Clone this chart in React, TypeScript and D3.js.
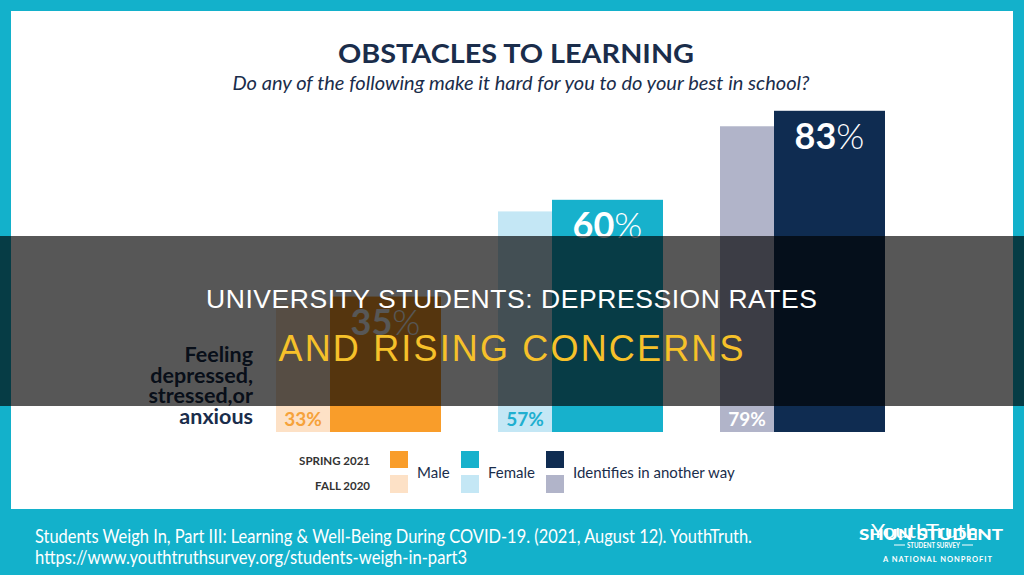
import React, { useEffect } from "react";
import * as d3 from "d3";

// chart data
const groups = ["Male", "Female", "Identifies in another way"];
const spring2021 = [35, 60, 83];
const fall2020 = [33, 57, 79];
const seasons = ["SPRING 2021", "FALL 2020"];
const springColors = ["#f99d2a", "#17b1cc", "#0f2c51"];
const fallColors = ["#fde1c6", "#c4e7f5", "#b1b4c9"];
const fallLabelColors = ["#f6a23a", "#20afd0", "#ffffff"];
const rowLabel = ["Feeling", "depressed,", "stressed,or", "anxious"];

const W = 1024;
const H = 575;
const teal = "#13b1cb";
const navy = "#1a2d4b";
const fallOffset = 54; // fall bar sits behind, shifted left
const legendX = [390, 461, 546]; // legend item positions

const App: React.FC = () => {
  useEffect(() => {
    document.body.style.margin = "0";
  }, []);

  const xScale = d3
    .scaleBand<string>()
    .domain(groups)
    .range([330, 885])
    .paddingInner(0.5)
    .paddingOuter(0);
  const bw = xScale.bandwidth();

  const yScale = d3.scaleLinear().domain([0, 100]).range([432, 45]);

  return (
    <svg width={W} height={H} style={{ display: "block" }}>
      {/* frame */}
      <rect x={0} y={0} width={W} height={H} fill={teal} />
      <rect x={11} y={11} width={1002} height={498} fill="#ffffff" />

      {/* titles */}
      <text
        x={516}
        y={63}
        textAnchor="middle"
        fontFamily="Lato"
        fontWeight={700}
        fontSize={27}
        fill={navy}
        textLength={356}
        lengthAdjust="spacingAndGlyphs"
      >
        OBSTACLES TO LEARNING
      </text>
      <text
        x={521}
        y={90}
        textAnchor="middle"
        fontFamily="Lato"
        fontStyle="italic"
        fontSize={18.5}
        fill={navy}
        textLength={577}
        lengthAdjust="spacingAndGlyphs"
      >
        Do any of the following make it hard for you to do your best in school?
      </text>

      {/* fall 2020 bars (behind) */}
      {groups.map((g, i) => (
        <rect
          key={"f" + g}
          x={(xScale(g) as number) - fallOffset}
          y={yScale(fall2020[i])}
          width={bw}
          height={yScale(0) - yScale(fall2020[i])}
          fill={fallColors[i]}
        />
      ))}
      {/* spring 2021 bars */}
      {groups.map((g, i) => (
        <rect
          key={"s" + g}
          x={xScale(g) as number}
          y={yScale(spring2021[i])}
          width={bw}
          height={yScale(0) - yScale(spring2021[i])}
          fill={springColors[i]}
        />
      ))}

      {/* spring labels */}
      {groups.map((g, i) => (
        <text
          key={"sl" + g}
          x={(xScale(g) as number) + bw / 2}
          y={yScale(spring2021[i]) + 38}
          textAnchor="middle"
          fontFamily="Lato"
          fontSize={36}
          fill="#ffffff"
        >
          <tspan fontWeight={700}>{spring2021[i]}</tspan>
          <tspan fontWeight={300}>%</tspan>
        </text>
      ))}

      {/* fall labels */}
      {groups.map((g, i) => (
        <text
          key={"fl" + g}
          x={(xScale(g) as number) - fallOffset / 2}
          y={426}
          textAnchor="middle"
          fontFamily="Lato"
          fontWeight={700}
          fontSize={19}
          fill={fallLabelColors[i]}
        >
          {fall2020[i]}%
        </text>
      ))}

      {/* row label */}
      {rowLabel.map((t, i) => (
        <text
          key={t}
          x={253}
          y={362 + i * 20.7}
          textAnchor="end"
          fontFamily="Lato"
          fontWeight={700}
          fontSize={21.5}
          fill={navy}
        >
          {t}
        </text>
      ))}

      {/* legend */}
      {seasons.map((s, j) => (
        <text
          key={s}
          x={370}
          y={465 + j * 25}
          textAnchor="end"
          fontFamily="Lato"
          fontWeight={700}
          fontSize={11.5}
          fill="#333333"
        >
          {s}
        </text>
      ))}
      {groups.map((g, i) => (
        <g key={"lg" + g} transform={`translate(${legendX[i]},0)`}>
          <rect x={0} y={451} width={18} height={17} fill={springColors[i]} />
          <rect x={0} y={475} width={18} height={18} fill={fallColors[i]} />
          <text x={27} y={478} fontFamily="Lato" fontSize={15} fill={navy}>
            {g}
          </text>
        </g>
      ))}

      {/* overlay banner */}
      <rect x={0} y={236} width={W} height={170} fill="rgba(0,0,0,0.66)" />
      <text
        x={511.5}
        y={308}
        textAnchor="middle"
        fontFamily="Liberation Sans"
        fontSize={26.5}
        fill="#ffffff"
        textLength={611}
        lengthAdjust="spacing"
      >
        UNIVERSITY STUDENTS: DEPRESSION RATES
      </text>
      <text
        x={511}
        y={361}
        textAnchor="middle"
        fontFamily="Liberation Sans"
        fontSize={36}
        fill="#f6c12a"
        textLength={465}
        lengthAdjust="spacing"
      >
        AND RISING CONCERNS
      </text>

      {/* footer */}
      <text
        x={35}
        y={543}
        fontFamily="Lato"
        fontSize={20}
        fill="#ffffff"
        textLength={717}
        lengthAdjust="spacingAndGlyphs"
      >
        Students Weigh In, Part III: Learning &amp; Well-Being During COVID-19. (2021, August 12). YouthTruth.
      </text>
      <text
        x={35}
        y={564}
        fontFamily="Lato"
        fontSize={20}
        fill="#ffffff"
        textLength={432}
        lengthAdjust="spacingAndGlyphs"
      >
        https://www.youthtruthsurvey.org/students-weigh-in-part3
      </text>

      {/* logo */}
      <text
        x={871}
        y={538}
        fontFamily="Lato"
        fontSize={20}
        fill="#ffffff"
        textLength={107}
        lengthAdjust="spacingAndGlyphs"
      >
        YouthTruth
      </text>
      <text
        x={859}
        y={540}
        fontFamily="Lato"
        fontWeight={900}
        fontSize={15}
        fill="#ffffff"
        textLength={144}
        lengthAdjust="spacingAndGlyphs"
      >
        SHUN STUDENT
      </text>
      <line x1={894} x2={905} y1={545} y2={545} stroke="#ffffff" strokeWidth={1} />
      <line x1={962} x2={973} y1={545} y2={545} stroke="#ffffff" strokeWidth={1} />
      <text
        x={933.5}
        y={547.5}
        textAnchor="middle"
        fontFamily="Lato"
        fontWeight={700}
        fontSize={7}
        fill="#ffffff"
        textLength={53}
        lengthAdjust="spacingAndGlyphs"
      >
        STUDENT SURVEY
      </text>
      <text
        x={937.5}
        y={562}
        textAnchor="middle"
        fontFamily="Lato"
        fontWeight={700}
        fontSize={7.5}
        fill="#ffffff"
        textLength={109}
        lengthAdjust="spacing"
      >
        A NATIONAL NONPROFIT
      </text>
    </svg>
  );
};

export default App;
